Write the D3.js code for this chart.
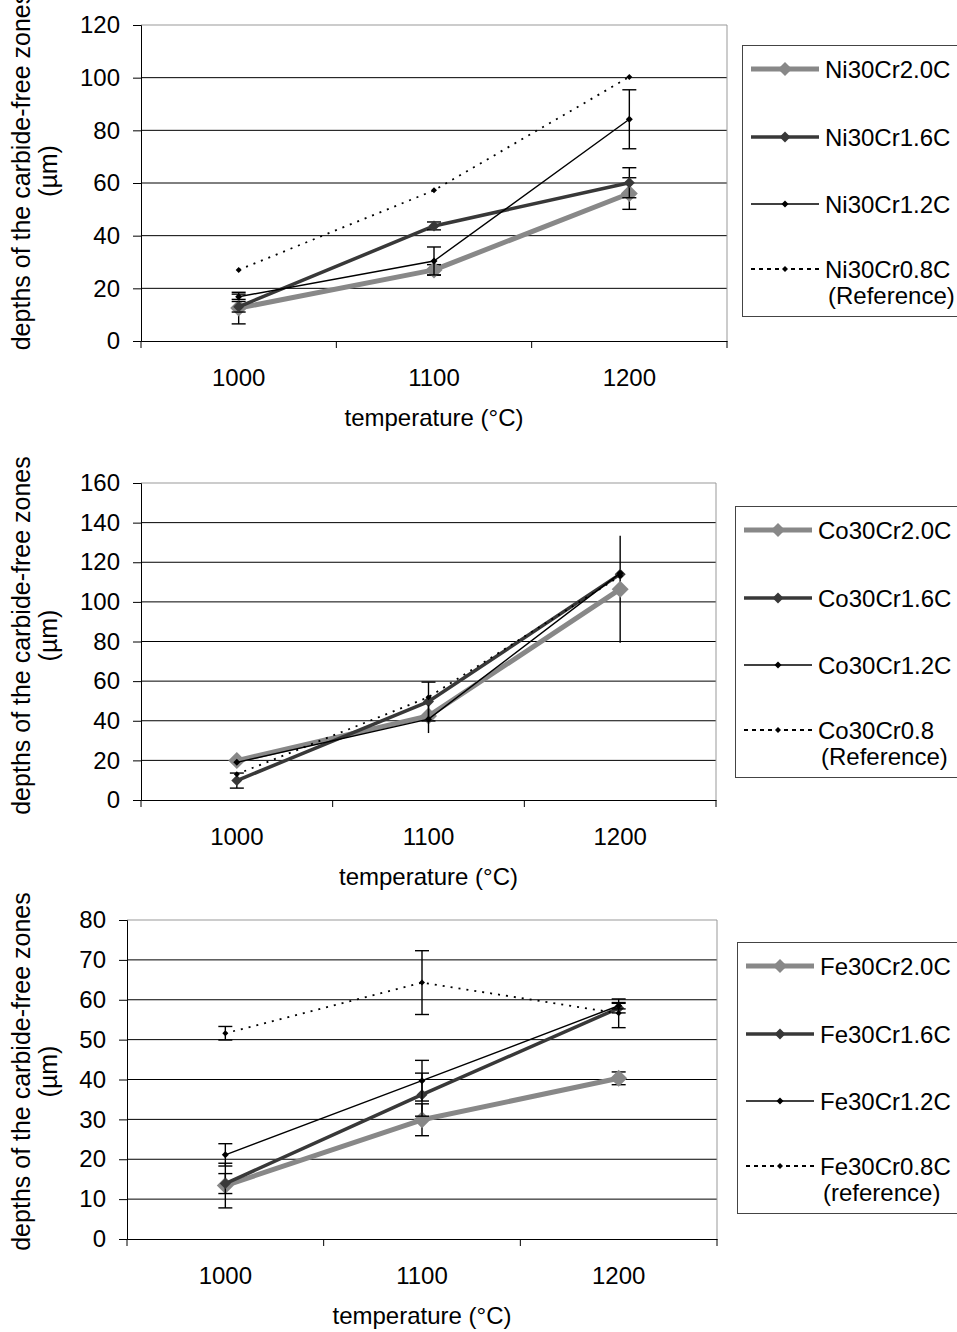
<!DOCTYPE html>
<html>
<head>
<meta charset="utf-8">
<script src="https://cdn.jsdelivr.net/npm/d3@7"></script>
<style>
  body { margin: 0; background: #fff; }
  svg text { font-family: "Liberation Sans", Arial, sans-serif; font-size: 24px; fill: #000; }
</style>
</head>
<body>
<svg id="chart" width="957" height="1332"></svg>
<script>
// temperatures (categories)
temperatures = ["1000", "1100", "1200"]

// Ni30Cr alloys
niNames = ["Ni30Cr2.0C", "Ni30Cr1.6C", "Ni30Cr1.2C", "Ni30Cr0.8C|(Reference)"]
ni20 = [12.5, 27, 56]
ni20Err = [6, 2, 6]
ni16 = [13, 43.7, 60.1]
ni16Err = [2, 1.5, 5.7]
ni12 = [16.8, 30.4, 84.2]
ni12Err = [1, 5.3, 11.2]
ni08 = [27, 57.2, 100.3]
ni08Err = [0, 0, 0]
niTicks = [0, 20, 40, 60, 80, 100, 120]

// Co30Cr alloys
coNames = ["Co30Cr2.0C", "Co30Cr1.6C", "Co30Cr1.2C", "Co30Cr0.8|(Reference)"]
co20 = [19.9, 42.4, 106.4]
co20Err = [0, 0, 27]
co16 = [9.8, 49.7, 114]
co16Err = [3.8, 9.8, 0]
co12 = [19, 40.8, 114.5]
co12Err = [0, 7, 0]
co08 = [13, 51.9, 113]
co08Err = [0, 0, 0]
coTicks = [0, 20, 40, 60, 80, 100, 120, 140, 160]

// Fe30Cr alloys
feNames = ["Fe30Cr2.0C", "Fe30Cr1.6C", "Fe30Cr1.2C", "Fe30Cr0.8C|(reference)"]
fe20 = [13.4, 29.9, 40.3]
fe20Err = [5.6, 4, 1.6]
fe16 = [13.9, 36.2, 57.9]
fe16Err = [2.5, 5.4, 1.2]
fe12 = [21.1, 39.7, 58.5]
fe12Err = [2.8, 5.1, 0.8]
fe08 = [51.6, 64.3, 56.6]
fe08Err = [1.7, 8, 3.6]
feTicks = [0, 10, 20, 30, 40, 50, 60, 70, 80]

// series styles (2.0C, 1.6C, 1.2C, 0.8C)
styles = [
    { color: "#888888", width: 5,   dash: null,  marker: 8.5 },
    { color: "#383838", width: 3.5, dash: null,  marker: 5.5 },
    { color: "#000000", width: 1.4, dash: null,  marker: 3.5 },
    { color: "#000000", width: 1.8, dash: "2,6", marker: 3 }
]

charts = [
    { names: niNames, values: [ni20, ni16, ni12, ni08], errors: [ni20Err, ni16Err, ni12Err, ni08Err],
      caps: [true, true, true, true], ticks: niTicks, titleShift: -12,
      left: 141, right: 727, top: 25, bottom: 341, legendX: 742, legendY: 45 },
    { names: coNames, values: [co20, co16, co12, co08], errors: [co20Err, co16Err, co12Err, co08Err],
      caps: [false, true, false, true], ticks: coTicks, titleShift: -6,
      left: 141, right: 716, top: 483, bottom: 800, legendX: 735, legendY: 506 },
    { names: feNames, values: [fe20, fe16, fe12, fe08], errors: [fe20Err, fe16Err, fe12Err, fe08Err],
      caps: [true, true, true, true], ticks: feTicks, titleShift: -8,
      left: 127, right: 717, top: 920, bottom: 1239, legendX: 737, legendY: 942 }
]

svg = d3.select("#chart")

function diamond(g, x, y, r, color) {
    g.append("path")
        .attr("d", `M${x},${y - r}L${x + r},${y}L${x},${y + r}L${x - r},${y}Z`)
        .attr("fill", color)
}

function drawChart(c) {
    const g = svg.append("g")

    const xScale = d3.scaleBand()
        .domain(temperatures)
        .range([c.left, c.right])
        .padding(0)

    const yScale = d3.scaleLinear()
        .domain([0, d3.max(c.ticks)])
        .range([c.bottom, c.top])

    // gridlines
    g.append("g")
        .selectAll("line")
        .data(c.ticks.slice(1))
        .join("line")
        .attr("x1", c.left)
        .attr("x2", c.right)
        .attr("y1", d => yScale(d))
        .attr("y2", d => yScale(d))
        .attr("stroke", (d, i) => i == c.ticks.length - 2 ? "#999" : "#000")
        .attr("stroke-width", 1)

    // plot area right border
    g.append("line")
        .attr("x1", c.right).attr("x2", c.right)
        .attr("y1", c.top).attr("y2", c.bottom)
        .attr("stroke", "#999")

    // Y axis
    const yAxis = g.append("g")
        .attr("transform", `translate(${c.left},0)`)
        .call(d3.axisLeft(yScale).tickValues(c.ticks).tickSize(8).tickPadding(13))
    yAxis.select(".domain").attr("stroke", "#000")
    yAxis.selectAll("text").style("font-size", "24px").attr("font-family", null)

    // X axis
    const xAxis = g.append("g")
        .attr("transform", `translate(0,${c.bottom})`)
        .call(d3.axisBottom(xScale).tickSize(0).tickPadding(28))
    xAxis.select(".domain").attr("stroke", "#000")
    xAxis.selectAll("text").style("font-size", "24px").attr("font-family", null)

    // category boundary ticks
    g.append("g")
        .selectAll("line")
        .data(d3.range(temperatures.length + 1))
        .join("line")
        .attr("x1", i => c.left + i * xScale.step())
        .attr("x2", i => c.left + i * xScale.step())
        .attr("y1", c.bottom)
        .attr("y2", c.bottom + 7)
        .attr("stroke", "#000")

    // series
    c.values.forEach(function(vals, s) {
        const st = styles[s]
        const pts = vals.map((v, i) => [xScale(temperatures[i]) + xScale.bandwidth() / 2, yScale(v)])

        const line = g.append("path")
            .datum(pts)
            .attr("fill", "none")
            .attr("stroke", st.color)
            .attr("stroke-width", st.width)
            .attr("stroke-linejoin", "round")
            .attr("d", d3.line())
        if (st.dash) line.attr("stroke-dasharray", st.dash)

        // error bars
        vals.forEach(function(v, i) {
            const e = c.errors[s][i]
            if (!e) return
            const x = pts[i][0]
            g.append("line")
                .attr("x1", x).attr("x2", x)
                .attr("y1", yScale(v - e)).attr("y2", yScale(v + e))
                .attr("stroke", "#000").attr("stroke-width", 1.4)
            if (c.caps[s]) {
                [v - e, v + e].forEach(function(end) {
                    g.append("line")
                        .attr("x1", x - 7).attr("x2", x + 7)
                        .attr("y1", yScale(end)).attr("y2", yScale(end))
                        .attr("stroke", "#000").attr("stroke-width", 1.4)
                })
            }
        })

        pts.forEach(p => diamond(g, p[0], p[1], st.marker, s == 3 ? "#000" : st.color))
    })

    // Y title
    const midY = (c.top + c.bottom) / 2 + c.titleShift
    g.append("text")
        .attr("transform", `translate(21,${midY}) rotate(-90)`)
        .attr("text-anchor", "middle")
        .attr("dominant-baseline", "central")
        .style("font-size", "25px")
        .text("depths of the carbide-free zones")
    g.append("text")
        .attr("transform", `translate(48,${midY}) rotate(-90)`)
        .attr("text-anchor", "middle")
        .attr("dominant-baseline", "central")
        .style("font-size", "25px")
        .text("(µm)")

    // X title
    g.append("text")
        .attr("x", (c.left + c.right) / 2)
        .attr("y", c.bottom + 85)
        .attr("text-anchor", "middle")
        .text("temperature (°C)")

    // legend
    const lg = g.append("g").attr("transform", `translate(${c.legendX},${c.legendY})`)
    lg.append("rect")
        .attr("x", 0.5).attr("y", 0.5)
        .attr("width", 260).attr("height", 271)
        .attr("fill", "#fff")
        .attr("stroke", "#444")

    const rowY = [24, 92, 159, 224]
    c.names.forEach(function(name, s) {
        const st = styles[s]
        const y = rowY[s]
        const ln = lg.append("line")
            .attr("x1", 9).attr("x2", 77)
            .attr("y1", y).attr("y2", y)
            .attr("stroke", st.color)
            .attr("stroke-width", st.width)
        if (st.dash) ln.attr("stroke-dasharray", "4,4")
        diamond(lg, 43, y, s == 0 ? 7 : st.marker, s == 3 ? "#000" : st.color)

        const parts = name.split("|")
        parts.forEach(function(p, k) {
            lg.append("text")
                .attr("x", k == 0 ? 83 : 86)
                .attr("y", y + 9 + k * 26)
                .style("font-size", "24px")
                .text(p)
        })
    })
}

charts.forEach(drawChart)
</script>
</body>
</html>
